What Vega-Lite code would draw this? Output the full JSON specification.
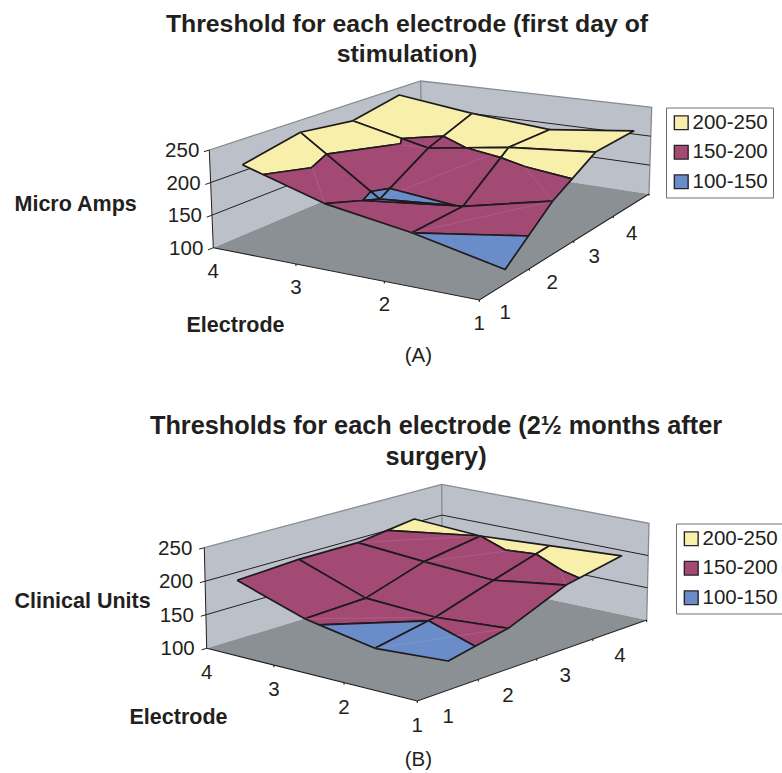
{
"$schema":"https://vega.github.io/schema/vega-lite/v6.json",
"padding":0,
"spacing":0,
"background":"white",
"config":{"view":{"stroke":null},"concat":{"spacing":0},
"title":{"font":"Liberation Sans","fontWeight":"bold","color":"#231f20","anchor":"middle","baseline":"bottom"},
"text":{"font":"Liberation Sans","color":"#231f20"},
"axis":{"domain":false,"ticks":false,"labels":false,"grid":false,"titleFont":"Liberation Sans","titleFontSize":21.5,"titleFontWeight":"bold","titleColor":"#231f20","titleAngle":0,"titleAlign":"left","titleBaseline":"middle"},
"legend":{"title":null,"orient":"none","symbolType":"square","symbolSize":190,"symbolStrokeWidth":1.4,"symbolStrokeColor":"#2a2328","labelFont":"Liberation Sans","labelFontSize":20.5,"labelColor":"#231f20","strokeColor":"#6f6f6f","fillColor":"white","padding":5,"rowPadding":8.5,"labelOffset":1}},
"resolve":{"scale":{"color":"independent","x":"independent","y":"independent"},"legend":{"color":"independent"}},
"vconcat":[
{"width":782,"height":387,
"title":{"text":["Threshold for each electrode (first day of","stimulation)"],"fontSize":24.8,"lineHeight":30,"offset":-67,"dx":16},
"data":{"values":[
{"k":"wall","p":1,"o":0,"e":4,"s":0.5,"v":100},{"k":"wall","p":1,"o":1,"e":4,"s":4.5,"v":100},{"k":"wall","p":1,"o":2,"e":4,"s":4.5,"v":250},{"k":"wall","p":1,"o":3,"e":4,"s":0.5,"v":250},
{"k":"wall","p":2,"o":0,"e":4,"s":4.5,"v":100},{"k":"wall","p":2,"o":1,"e":1,"s":4.5,"v":100},{"k":"wall","p":2,"o":2,"e":1,"s":4.5,"v":250},{"k":"wall","p":2,"o":3,"e":4,"s":4.5,"v":250},
{"k":"floor","p":1,"o":0,"e":1,"s":0.5,"v":100},{"k":"floor","p":1,"o":1,"e":4,"s":0.5,"v":100},{"k":"floor","p":1,"o":2,"e":4,"s":4.5,"v":100},{"k":"floor","p":1,"o":3,"e":1,"s":4.5,"v":100},
{"k":"grid","p":1,"o":0,"e":4,"s":0.42,"v":150},{"k":"grid","p":1,"o":1,"e":4,"s":4.5,"v":150},{"k":"grid","p":1,"o":2,"e":1,"s":4.5,"v":150},
{"k":"grid","p":2,"o":0,"e":4,"s":0.42,"v":200},{"k":"grid","p":2,"o":1,"e":4,"s":4.5,"v":200},{"k":"grid","p":2,"o":2,"e":1,"s":4.5,"v":200},
{"k":"grid","p":3,"o":0,"e":4,"s":0.42,"v":100},{"k":"grid","p":3,"o":1,"e":4,"s":0.5,"v":100},
{"k":"grid","p":4,"o":0,"e":4,"s":0.42,"v":250},{"k":"grid","p":4,"o":1,"e":4,"s":0.5,"v":250},
{"k":"grid","p":5,"o":0,"e":4,"s":0.5,"v":100},{"k":"grid","p":5,"o":1,"e":4,"s":0.5,"v":250},
{"k":"edge","p":1,"o":0,"e":4,"s":0.5,"v":250},{"k":"edge","p":1,"o":1,"e":4,"s":4.5,"v":250},{"k":"edge","p":1,"o":2,"e":1,"s":4.5,"v":250},{"k":"edge","p":1,"o":3,"e":1,"s":4.5,"v":100},
{"k":"edge","p":2,"o":0,"e":4,"s":4.5,"v":250},{"k":"edge","p":2,"o":1,"e":4,"s":4.5,"v":100},
{"k":"s","p":1,"o":0,"b":"200-250","e":4,"s":3,"v":219},{"k":"s","p":1,"o":1,"b":"200-250","e":4,"s":4,"v":237},{"k":"s","p":1,"o":2,"b":"200-250","e":3,"s":4,"v":220},{"k":"s","p":1,"o":3,"b":"200-250","e":3,"s":3.333,"v":200},{"k":"s","p":1,"o":4,"b":"200-250","e":3.345,"s":3,"v":200},{"k":"s","p":1,"o":5,"b":"200-250","e":4,"s":3,"v":219},
{"k":"s","p":2,"o":0,"b":"150-200","e":3.345,"s":3,"v":200},{"k":"s","p":2,"o":1,"b":"150-200","e":3,"s":3.333,"v":200},{"k":"s","p":2,"o":2,"b":"150-200","e":3,"s":3,"v":190},{"k":"s","p":2,"o":3,"b":"150-200","e":3.345,"s":3,"v":200},
{"k":"s","p":3,"o":0,"b":"200-250","e":3,"s":3.333,"v":200},{"k":"s","p":3,"o":1,"b":"200-250","e":3,"s":4,"v":220},{"k":"s","p":3,"o":2,"b":"200-250","e":2,"s":4,"v":209},{"k":"s","p":3,"o":3,"b":"200-250","e":2,"s":3,"v":211},{"k":"s","p":3,"o":4,"b":"200-250","e":2.524,"s":3,"v":200},{"k":"s","p":3,"o":5,"b":"200-250","e":3,"s":3.333,"v":200},
{"k":"s","p":4,"o":0,"b":"150-200","e":3,"s":3.333,"v":200},{"k":"s","p":4,"o":1,"b":"150-200","e":2.524,"s":3,"v":200},{"k":"s","p":4,"o":2,"b":"150-200","e":3,"s":3,"v":190},{"k":"s","p":4,"o":3,"b":"150-200","e":3,"s":3.333,"v":200},
{"k":"s","p":5,"o":0,"b":"200-250","e":2,"s":3,"v":211},{"k":"s","p":5,"o":1,"b":"200-250","e":2,"s":4,"v":209},{"k":"s","p":5,"o":2,"b":"200-250","e":1,"s":4,"v":225},{"k":"s","p":5,"o":3,"b":"200-250","e":1,"s":3,"v":223},{"k":"s","p":5,"o":4,"b":"200-250","e":2,"s":3,"v":211},
{"k":"s","p":6,"o":0,"b":"200-250","e":4,"s":2,"v":230},{"k":"s","p":6,"o":1,"b":"200-250","e":4,"s":3,"v":219},{"k":"s","p":6,"o":2,"b":"200-250","e":3.345,"s":3,"v":200},{"k":"s","p":6,"o":3,"b":"200-250","e":3.23,"s":2.79,"v":200},{"k":"s","p":6,"o":4,"b":"200-250","e":3.667,"s":2,"v":200},{"k":"s","p":6,"o":5,"b":"200-250","e":4,"s":2,"v":230},
{"k":"s","p":7,"o":0,"b":"150-200","e":3.667,"s":2,"v":200},{"k":"s","p":7,"o":1,"b":"150-200","e":3.23,"s":2.79,"v":200},{"k":"s","p":7,"o":2,"b":"150-200","e":3.345,"s":3,"v":200},{"k":"s","p":7,"o":3,"b":"150-200","e":3,"s":3,"v":190},{"k":"s","p":7,"o":4,"b":"150-200","e":3,"s":2.2,"v":150},{"k":"s","p":7,"o":5,"b":"150-200","e":3.111,"s":2,"v":150},{"k":"s","p":7,"o":6,"b":"150-200","e":3.667,"s":2,"v":200},
{"k":"s","p":8,"o":0,"b":"100-150","e":3.111,"s":2,"v":150},{"k":"s","p":8,"o":1,"b":"100-150","e":3,"s":2.2,"v":150},{"k":"s","p":8,"o":2,"b":"100-150","e":3,"s":2,"v":140},{"k":"s","p":8,"o":3,"b":"100-150","e":3.111,"s":2,"v":150},
{"k":"s","p":9,"o":0,"b":"200-250","e":2.524,"s":3,"v":200},{"k":"s","p":9,"o":1,"b":"200-250","e":2,"s":3,"v":211},{"k":"s","p":9,"o":2,"b":"200-250","e":2,"s":2.817,"v":200},{"k":"s","p":9,"o":3,"b":"200-250","e":2.524,"s":3,"v":200},
{"k":"s","p":10,"o":0,"b":"150-200","e":2.524,"s":3,"v":200},{"k":"s","p":10,"o":1,"b":"150-200","e":2,"s":2.817,"v":200},{"k":"s","p":10,"o":2,"b":"150-200","e":2,"s":2,"v":151},{"k":"s","p":10,"o":3,"b":"150-200","e":2.09,"s":2,"v":150},{"k":"s","p":10,"o":4,"b":"150-200","e":3,"s":2.2,"v":150},{"k":"s","p":10,"o":5,"b":"150-200","e":3,"s":3,"v":190},{"k":"s","p":10,"o":6,"b":"150-200","e":2.524,"s":3,"v":200},
{"k":"s","p":11,"o":0,"b":"100-150","e":3,"s":2.2,"v":150},{"k":"s","p":11,"o":1,"b":"100-150","e":2.09,"s":2,"v":150},{"k":"s","p":11,"o":2,"b":"100-150","e":3,"s":2,"v":140},{"k":"s","p":11,"o":3,"b":"100-150","e":3,"s":2.2,"v":150},
{"k":"s","p":12,"o":0,"b":"200-250","e":2,"s":2.817,"v":200},{"k":"s","p":12,"o":1,"b":"200-250","e":2,"s":3,"v":211},{"k":"s","p":12,"o":2,"b":"200-250","e":1,"s":3,"v":223},{"k":"s","p":12,"o":3,"b":"200-250","e":1,"s":2.44,"v":200},{"k":"s","p":12,"o":4,"b":"200-250","e":1.61,"s":2.62,"v":200},{"k":"s","p":12,"o":5,"b":"200-250","e":2,"s":2.817,"v":200},
{"k":"s","p":13,"o":0,"b":"150-200","e":2,"s":2.817,"v":200},{"k":"s","p":13,"o":1,"b":"150-200","e":1.61,"s":2.62,"v":200},{"k":"s","p":13,"o":2,"b":"150-200","e":1,"s":2.44,"v":200},{"k":"s","p":13,"o":3,"b":"150-200","e":1,"s":2,"v":182},{"k":"s","p":13,"o":4,"b":"150-200","e":2,"s":2,"v":151},{"k":"s","p":13,"o":5,"b":"150-200","e":2,"s":2.817,"v":200},
{"k":"s","p":14,"o":0,"b":"200-250","e":4,"s":1,"v":210},{"k":"s","p":14,"o":1,"b":"200-250","e":4,"s":2,"v":230},{"k":"s","p":14,"o":2,"b":"200-250","e":3.667,"s":2,"v":200},{"k":"s","p":14,"o":3,"b":"200-250","e":3.48,"s":1.46,"v":200},{"k":"s","p":14,"o":4,"b":"200-250","e":3.744,"s":1,"v":200},{"k":"s","p":14,"o":5,"b":"200-250","e":4,"s":1,"v":210},
{"k":"s","p":15,"o":0,"b":"150-200","e":3.744,"s":1,"v":200},{"k":"s","p":15,"o":1,"b":"150-200","e":3.48,"s":1.46,"v":200},{"k":"s","p":15,"o":2,"b":"150-200","e":3.667,"s":2,"v":200},{"k":"s","p":15,"o":3,"b":"150-200","e":3.111,"s":2,"v":150},{"k":"s","p":15,"o":4,"b":"150-200","e":3,"s":1.677,"v":150},{"k":"s","p":15,"o":5,"b":"150-200","e":3,"s":1,"v":171},{"k":"s","p":15,"o":6,"b":"150-200","e":3.744,"s":1,"v":200},
{"k":"s","p":16,"o":0,"b":"100-150","e":3,"s":1.677,"v":150},{"k":"s","p":16,"o":1,"b":"100-150","e":3.111,"s":2,"v":150},{"k":"s","p":16,"o":2,"b":"100-150","e":3,"s":2,"v":140},{"k":"s","p":16,"o":3,"b":"100-150","e":3,"s":1.677,"v":150},
{"k":"s","p":17,"o":0,"b":"150-200","e":3,"s":1,"v":171},{"k":"s","p":17,"o":1,"b":"150-200","e":3,"s":1.677,"v":150},{"k":"s","p":17,"o":2,"b":"150-200","e":2.09,"s":2,"v":150},{"k":"s","p":17,"o":3,"b":"150-200","e":2,"s":2,"v":151},{"k":"s","p":17,"o":4,"b":"150-200","e":2,"s":1,"v":150},{"k":"s","p":17,"o":5,"b":"150-200","e":3,"s":1,"v":171},
{"k":"s","p":18,"o":0,"b":"100-150","e":3,"s":1.677,"v":150},{"k":"s","p":18,"o":1,"b":"100-150","e":3,"s":2,"v":140},{"k":"s","p":18,"o":2,"b":"100-150","e":2.09,"s":2,"v":150},{"k":"s","p":18,"o":3,"b":"100-150","e":3,"s":1.677,"v":150},
{"k":"s","p":19,"o":0,"b":"150-200","e":2,"s":1,"v":150},{"k":"s","p":19,"o":1,"b":"150-200","e":2,"s":2,"v":151},{"k":"s","p":19,"o":2,"b":"150-200","e":1,"s":2,"v":182},{"k":"s","p":19,"o":3,"b":"150-200","e":1,"s":1.475,"v":150},{"k":"s","p":19,"o":4,"b":"150-200","e":2,"s":1,"v":150},
{"k":"s","p":20,"o":0,"b":"100-150","e":2,"s":1,"v":150},{"k":"s","p":20,"o":1,"b":"100-150","e":1,"s":1.475,"v":150},{"k":"s","p":20,"o":2,"b":"100-150","e":1,"s":1,"v":121},{"k":"s","p":20,"o":3,"b":"100-150","e":2,"s":1,"v":150},
{"k":"diag","p":1,"o":0,"e":3,"s":1,"v":171},{"k":"diag","p":1,"o":1,"e":4,"s":2,"v":230},
{"k":"diag","p":2,"o":0,"e":2,"s":1,"v":150},{"k":"diag","p":2,"o":1,"e":1,"s":2,"v":182},
{"k":"diag","p":3,"o":0,"e":4,"s":2,"v":230},{"k":"diag","p":3,"o":1,"e":3,"s":3,"v":190},
{"k":"diag","p":4,"o":0,"e":3,"s":2,"v":140},{"k":"diag","p":4,"o":1,"e":2,"s":3,"v":211},
{"k":"diag","p":5,"o":0,"e":2,"s":3,"v":211},{"k":"diag","p":5,"o":1,"e":1,"s":2,"v":182},
{"k":"diag","p":6,"o":0,"e":4,"s":3,"v":219},{"k":"diag","p":6,"o":1,"e":3,"s":4,"v":220},
{"k":"diag","p":7,"o":0,"e":3,"s":4,"v":220},{"k":"diag","p":7,"o":1,"e":2,"s":3,"v":211},
{"k":"axis","p":1,"o":0,"e":4,"s":0.5,"v":100},{"k":"axis","p":1,"o":1,"e":1,"s":0.5,"v":100},{"k":"axis","p":1,"o":2,"e":1,"s":4.5,"v":100},
{"k":"axis","p":2,"o":0,"e":1,"s":0.5,"v":97},{"k":"axis","p":2,"o":1,"e":1,"s":0.5,"v":100},
{"k":"axis","p":3,"o":0,"e":2,"s":0.5,"v":97},{"k":"axis","p":3,"o":1,"e":2,"s":0.5,"v":100},
{"k":"axis","p":4,"o":0,"e":3,"s":0.5,"v":97},{"k":"axis","p":4,"o":1,"e":3,"s":0.5,"v":100},
{"k":"axis","p":5,"o":0,"e":1,"s":1.5,"v":97},{"k":"axis","p":5,"o":1,"e":1,"s":1.5,"v":100},
{"k":"axis","p":6,"o":0,"e":1,"s":2.5,"v":97},{"k":"axis","p":6,"o":1,"e":1,"s":2.5,"v":100},
{"k":"axis","p":7,"o":0,"e":1,"s":3.5,"v":97},{"k":"axis","p":7,"o":1,"e":1,"s":3.5,"v":100},
{"k":"axis","p":8,"o":0,"e":1,"s":4.5,"v":97},{"k":"axis","p":8,"o":1,"e":1,"s":4.5,"v":100},
{"k":"val","e":4,"s":0.5,"v":100,"t":"100"},{"k":"val","e":4,"s":0.5,"v":150,"t":"150"},{"k":"val","e":4,"s":0.5,"v":200,"t":"200"},{"k":"val","e":4,"s":0.5,"v":250,"t":"250"},
{"k":"eleft","e":1,"s":0.5,"v":100,"t":"1"},{"k":"eleft","e":2,"s":0.5,"v":100,"t":"2"},{"k":"eleft","e":3,"s":0.5,"v":100,"t":"3"},{"k":"eleft","e":4,"s":0.5,"v":100,"t":"4"},
{"k":"eright","e":1,"s":1,"v":100,"t":"1"},{"k":"eright","e":1,"s":2,"v":100,"t":"2"},{"k":"eright","e":1,"s":3,"v":100,"t":"3"},{"k":"eright","e":1,"s":4,"v":100,"t":"4"},
{"k":"cap","e":1,"s":0.5,"v":100,"t":"(A)"}
]},
"transform":[
{"calculate":"(datum.e-1)/3","as":"U"},{"calculate":"(datum.s-0.5)/4","as":"T"},
{"calculate":"datum.U*1.11/(1+0.11*datum.U)","as":"pu"},{"calculate":"datum.T*1.255/(1+0.255*datum.T)","as":"pt"},
{"calculate":"(datum.v-100)/150","as":"h"},
{"calculate":"(1-datum.pu)*(1-datum.pt)*(479.3-0.3*datum.h)+datum.pu*(1-datum.pt)*(213.3-4*datum.h)+(1-datum.pu)*datum.pt*(649+2.7*datum.h)+datum.pu*datum.pt*(421.7-1*datum.h)","as":"px"},
{"calculate":"(1-datum.pu)*(1-datum.pt)*(300-106*datum.h)+datum.pu*(1-datum.pt)*(247.7-97.7*datum.h)+(1-datum.pu)*datum.pt*(194-86.7*datum.h)+datum.pu*datum.pt*(159.3-78.3*datum.h)","as":"py"}
],
"encoding":{
"x":{"field":"px","type":"quantitative","scale":{"domain":[0,782],"nice":false,"zero":false},"axis":{"title":"Electrode","titleX":186,"titleY":-62,"orient":"bottom"}},
"y":{"field":"py","type":"quantitative","scale":{"domain":[0,387],"reverse":true,"nice":false,"zero":false},"axis":{"title":"Micro Amps","titleX":14,"titleY":204}}
},
"layer":[
{"transform":[{"filter":"datum.k=='wall'"}],"mark":{"type":"line","filled":true,"color":"#bcc1c9","stroke":null},"encoding":{"detail":{"field":"p"},"order":{"field":"o"}}},
{"transform":[{"filter":"datum.k=='floor'"}],"mark":{"type":"line","filled":true,"color":"#8a9094","stroke":null},"encoding":{"detail":{"field":"p"},"order":{"field":"o"}}},
{"transform":[{"filter":"datum.k=='edge'"}],"mark":{"type":"line","stroke":"#868c93","strokeWidth":1.3},"encoding":{"detail":{"field":"p"},"order":{"field":"o"}}},
{"transform":[{"filter":"datum.k=='grid'"}],"mark":{"type":"line","stroke":"#231f20","strokeWidth":1},"encoding":{"detail":{"field":"p"},"order":{"field":"o"}}},
{"transform":[{"filter":"datum.k=='axis'"}],"mark":{"type":"line","stroke":"#231f20","strokeWidth":1.1},"encoding":{"detail":{"field":"p"},"order":{"field":"o"}}},
{"transform":[{"filter":"datum.k=='s'"}],"mark":{"type":"line","filled":true,"stroke":"#1f1a1e","strokeWidth":1.7,"strokeJoin":"round"},"encoding":{"detail":{"field":"p"},"order":{"field":"o"},
"color":{"field":"b","type":"nominal","scale":{"domain":["200-250","150-200","100-150"],"range":["#f8efaa","#a34a74","#6a8cc9"]},"legend":{"legendX":666,"legendY":107.5}}}},
{"transform":[{"filter":"datum.k=='diag'"}],"mark":{"type":"line","stroke":"white","strokeWidth":0.7,"strokeOpacity":0.14},"encoding":{"detail":{"field":"p"},"order":{"field":"o"}}},
{"transform":[{"filter":"datum.k=='val'"}],"mark":{"type":"text","align":"right","baseline":"middle","fontSize":20.5,"dx":-10,"dy":1},"encoding":{"text":{"field":"t"}}},
{"transform":[{"filter":"datum.k=='eleft'"}],"mark":{"type":"text","align":"center","baseline":"middle","fontSize":20.5,"dy":24},"encoding":{"text":{"field":"t"}}},
{"transform":[{"filter":"datum.k=='eright'"}],"mark":{"type":"text","align":"center","baseline":"middle","fontSize":20.5,"dy":29},"encoding":{"text":{"field":"t"}}},
{"transform":[{"filter":"datum.k=='cap'"}],"mark":{"type":"text","align":"center","baseline":"middle","fontSize":20.5,"dx":-61,"dy":56},"encoding":{"text":{"field":"t"}}}
]},
{"width":782,"height":386,
"title":{"text":["Thresholds for each electrode (2½ months after","surgery)"],"fontSize":25.3,"lineHeight":31,"offset":-83,"dx":45},
"data":{"values":[
{"k":"wall","p":1,"o":0,"e":4,"s":0.5,"v":100},{"k":"wall","p":1,"o":1,"e":4,"s":4.5,"v":100},{"k":"wall","p":1,"o":2,"e":4,"s":4.5,"v":250},{"k":"wall","p":1,"o":3,"e":4,"s":0.5,"v":250},
{"k":"wall","p":2,"o":0,"e":4,"s":4.5,"v":100},{"k":"wall","p":2,"o":1,"e":1,"s":4.5,"v":100},{"k":"wall","p":2,"o":2,"e":1,"s":4.5,"v":250},{"k":"wall","p":2,"o":3,"e":4,"s":4.5,"v":250},
{"k":"floor","p":1,"o":0,"e":1,"s":0.5,"v":100},{"k":"floor","p":1,"o":1,"e":4,"s":0.5,"v":100},{"k":"floor","p":1,"o":2,"e":4,"s":4.5,"v":100},{"k":"floor","p":1,"o":3,"e":1,"s":4.5,"v":100},
{"k":"grid","p":1,"o":0,"e":4,"s":0.42,"v":150},{"k":"grid","p":1,"o":1,"e":4,"s":4.5,"v":150},{"k":"grid","p":1,"o":2,"e":1,"s":4.5,"v":150},
{"k":"grid","p":2,"o":0,"e":4,"s":0.42,"v":200},{"k":"grid","p":2,"o":1,"e":4,"s":4.5,"v":200},{"k":"grid","p":2,"o":2,"e":1,"s":4.5,"v":200},
{"k":"grid","p":3,"o":0,"e":4,"s":0.42,"v":100},{"k":"grid","p":3,"o":1,"e":4,"s":0.5,"v":100},
{"k":"grid","p":4,"o":0,"e":4,"s":0.42,"v":250},{"k":"grid","p":4,"o":1,"e":4,"s":0.5,"v":250},
{"k":"grid","p":5,"o":0,"e":4,"s":0.5,"v":100},{"k":"grid","p":5,"o":1,"e":4,"s":0.5,"v":250},
{"k":"edge","p":1,"o":0,"e":4,"s":0.5,"v":250},{"k":"edge","p":1,"o":1,"e":4,"s":4.5,"v":250},{"k":"edge","p":1,"o":2,"e":1,"s":4.5,"v":250},{"k":"edge","p":1,"o":3,"e":1,"s":4.5,"v":100},
{"k":"edge","p":2,"o":0,"e":4,"s":4.5,"v":250},{"k":"edge","p":2,"o":1,"e":4,"s":4.5,"v":100},
{"k":"s","p":1,"o":0,"b":"200-250","e":4,"s":3.516,"v":200},{"k":"s","p":1,"o":1,"b":"200-250","e":4,"s":4,"v":206},{"k":"s","p":1,"o":2,"b":"200-250","e":3,"s":4,"v":200},{"k":"s","p":1,"o":3,"b":"200-250","e":4,"s":3.516,"v":200},
{"k":"s","p":2,"o":0,"b":"150-200","e":4,"s":3,"v":193.6},{"k":"s","p":2,"o":1,"b":"150-200","e":4,"s":3.516,"v":200},{"k":"s","p":2,"o":2,"b":"150-200","e":3,"s":4,"v":200},{"k":"s","p":2,"o":3,"b":"150-200","e":3,"s":3,"v":186},{"k":"s","p":2,"o":4,"b":"150-200","e":4,"s":3,"v":193.6},
{"k":"s","p":3,"o":0,"b":"200-250","e":3,"s":4,"v":200},{"k":"s","p":3,"o":1,"b":"200-250","e":2,"s":4,"v":206.5},{"k":"s","p":3,"o":2,"b":"200-250","e":2,"s":3.755,"v":200},{"k":"s","p":3,"o":3,"b":"200-250","e":2.373,"s":3.676,"v":200},{"k":"s","p":3,"o":4,"b":"200-250","e":3,"s":4,"v":200},
{"k":"s","p":4,"o":0,"b":"150-200","e":3,"s":3,"v":186},{"k":"s","p":4,"o":1,"b":"150-200","e":3,"s":4,"v":200},{"k":"s","p":4,"o":2,"b":"150-200","e":2.373,"s":3.676,"v":200},{"k":"s","p":4,"o":3,"b":"150-200","e":2,"s":3.755,"v":200},{"k":"s","p":4,"o":4,"b":"150-200","e":2,"s":3,"v":180},{"k":"s","p":4,"o":5,"b":"150-200","e":3,"s":3,"v":186},
{"k":"s","p":5,"o":0,"b":"200-250","e":2,"s":3.755,"v":200},{"k":"s","p":5,"o":1,"b":"200-250","e":2,"s":4,"v":206.5},{"k":"s","p":5,"o":2,"b":"200-250","e":1,"s":4,"v":213},{"k":"s","p":5,"o":3,"b":"200-250","e":1,"s":3.235,"v":200},{"k":"s","p":5,"o":4,"b":"200-250","e":1.326,"s":3.363,"v":200},{"k":"s","p":5,"o":5,"b":"200-250","e":2,"s":3.755,"v":200},
{"k":"s","p":6,"o":0,"b":"150-200","e":2,"s":3,"v":180},{"k":"s","p":6,"o":1,"b":"150-200","e":2,"s":3.755,"v":200},{"k":"s","p":6,"o":2,"b":"150-200","e":1.326,"s":3.363,"v":200},{"k":"s","p":6,"o":3,"b":"150-200","e":1,"s":3.235,"v":200},{"k":"s","p":6,"o":4,"b":"150-200","e":1,"s":3,"v":196},{"k":"s","p":6,"o":5,"b":"150-200","e":2,"s":3,"v":180},
{"k":"s","p":7,"o":0,"b":"150-200","e":4,"s":2,"v":193.5},{"k":"s","p":7,"o":1,"b":"150-200","e":4,"s":3,"v":193.6},{"k":"s","p":7,"o":2,"b":"150-200","e":3,"s":3,"v":186},{"k":"s","p":7,"o":3,"b":"150-200","e":3,"s":2,"v":157},{"k":"s","p":7,"o":4,"b":"150-200","e":4,"s":2,"v":193.5},
{"k":"s","p":8,"o":0,"b":"150-200","e":3,"s":2,"v":157},{"k":"s","p":8,"o":1,"b":"150-200","e":3,"s":3,"v":186},{"k":"s","p":8,"o":2,"b":"150-200","e":2,"s":3,"v":180},{"k":"s","p":8,"o":3,"b":"150-200","e":2,"s":2,"v":152},{"k":"s","p":8,"o":4,"b":"150-200","e":3,"s":2,"v":157},
{"k":"s","p":9,"o":0,"b":"150-200","e":2,"s":2,"v":152},{"k":"s","p":9,"o":1,"b":"150-200","e":2,"s":3,"v":180},{"k":"s","p":9,"o":2,"b":"150-200","e":1,"s":3,"v":196},{"k":"s","p":9,"o":3,"b":"150-200","e":1,"s":2,"v":160},{"k":"s","p":9,"o":4,"b":"150-200","e":2,"s":2,"v":152},
{"k":"s","p":10,"o":0,"b":"150-200","e":4,"s":1,"v":188},{"k":"s","p":10,"o":1,"b":"150-200","e":4,"s":2,"v":193.5},{"k":"s","p":10,"o":2,"b":"150-200","e":3,"s":2,"v":157},{"k":"s","p":10,"o":3,"b":"150-200","e":3,"s":1,"v":154},{"k":"s","p":10,"o":4,"b":"150-200","e":4,"s":1,"v":188},
{"k":"s","p":11,"o":0,"b":"150-200","e":3,"s":1,"v":154},{"k":"s","p":11,"o":1,"b":"150-200","e":3,"s":2,"v":157},{"k":"s","p":11,"o":2,"b":"150-200","e":2,"s":2,"v":152},{"k":"s","p":11,"o":3,"b":"150-200","e":2,"s":1.882,"v":150},{"k":"s","p":11,"o":4,"b":"150-200","e":2.79,"s":1,"v":150},{"k":"s","p":11,"o":5,"b":"150-200","e":3,"s":1,"v":154},
{"k":"s","p":12,"o":0,"b":"100-150","e":2.79,"s":1,"v":150},{"k":"s","p":12,"o":1,"b":"100-150","e":2,"s":1.882,"v":150},{"k":"s","p":12,"o":2,"b":"100-150","e":2,"s":1,"v":135},{"k":"s","p":12,"o":3,"b":"100-150","e":2.79,"s":1,"v":150},
{"k":"s","p":13,"o":0,"b":"150-200","e":2,"s":1.882,"v":150},{"k":"s","p":13,"o":1,"b":"150-200","e":2,"s":2,"v":152},{"k":"s","p":13,"o":2,"b":"150-200","e":1,"s":2,"v":160},{"k":"s","p":13,"o":3,"b":"150-200","e":1,"s":1.444,"v":150},{"k":"s","p":13,"o":4,"b":"150-200","e":2,"s":1.882,"v":150},
{"k":"s","p":14,"o":0,"b":"100-150","e":2,"s":1,"v":135},{"k":"s","p":14,"o":1,"b":"100-150","e":2,"s":1.882,"v":150},{"k":"s","p":14,"o":2,"b":"100-150","e":1,"s":1.444,"v":150},{"k":"s","p":14,"o":3,"b":"100-150","e":1,"s":1,"v":142},{"k":"s","p":14,"o":4,"b":"100-150","e":2,"s":1,"v":135},
{"k":"diag","p":1,"o":0,"e":4,"s":3,"v":193.6},{"k":"diag","p":1,"o":1,"e":3,"s":4,"v":200},
{"k":"diag","p":2,"o":0,"e":3,"s":3,"v":186},{"k":"diag","p":2,"o":1,"e":2,"s":4,"v":206.5},
{"k":"diag","p":3,"o":0,"e":2,"s":4,"v":206.5},{"k":"diag","p":3,"o":1,"e":1,"s":3,"v":196},
{"k":"diag","p":4,"o":0,"e":3,"s":1,"v":154},{"k":"diag","p":4,"o":1,"e":2,"s":2,"v":152},
{"k":"diag","p":5,"o":0,"e":2,"s":1,"v":135},{"k":"diag","p":5,"o":1,"e":1,"s":2,"v":160},
{"k":"axis","p":1,"o":0,"e":4,"s":0.5,"v":100},{"k":"axis","p":1,"o":1,"e":1,"s":0.5,"v":100},{"k":"axis","p":1,"o":2,"e":1,"s":4.5,"v":100},
{"k":"axis","p":2,"o":0,"e":1,"s":0.5,"v":97},{"k":"axis","p":2,"o":1,"e":1,"s":0.5,"v":100},
{"k":"axis","p":3,"o":0,"e":2,"s":0.5,"v":97},{"k":"axis","p":3,"o":1,"e":2,"s":0.5,"v":100},
{"k":"axis","p":4,"o":0,"e":3,"s":0.5,"v":97},{"k":"axis","p":4,"o":1,"e":3,"s":0.5,"v":100},
{"k":"axis","p":5,"o":0,"e":1,"s":1.5,"v":97},{"k":"axis","p":5,"o":1,"e":1,"s":1.5,"v":100},
{"k":"axis","p":6,"o":0,"e":1,"s":2.5,"v":97},{"k":"axis","p":6,"o":1,"e":1,"s":2.5,"v":100},
{"k":"axis","p":7,"o":0,"e":1,"s":3.5,"v":97},{"k":"axis","p":7,"o":1,"e":1,"s":3.5,"v":100},
{"k":"axis","p":8,"o":0,"e":1,"s":4.5,"v":97},{"k":"axis","p":8,"o":1,"e":1,"s":4.5,"v":100},
{"k":"val","e":4,"s":0.5,"v":100,"t":"100"},{"k":"val","e":4,"s":0.5,"v":150,"t":"150"},{"k":"val","e":4,"s":0.5,"v":200,"t":"200"},{"k":"val","e":4,"s":0.5,"v":250,"t":"250"},
{"k":"eleft","e":1,"s":0.5,"v":100,"t":"1"},{"k":"eleft","e":2,"s":0.5,"v":100,"t":"2"},{"k":"eleft","e":3,"s":0.5,"v":100,"t":"3"},{"k":"eleft","e":4,"s":0.5,"v":100,"t":"4"},
{"k":"eright","e":1,"s":1,"v":100,"t":"1"},{"k":"eright","e":1,"s":2,"v":100,"t":"2"},{"k":"eright","e":1,"s":3,"v":100,"t":"3"},{"k":"eright","e":1,"s":4,"v":100,"t":"4"},
{"k":"cap","e":1,"s":0.5,"v":100,"t":"(B)"}
]},
"transform":[
{"calculate":"(datum.e-1)/3","as":"U"},{"calculate":"(datum.s-0.5)/4","as":"T"},
{"calculate":"datum.U*1.0675/(1+0.0675*datum.U)","as":"pu"},{"calculate":"datum.T*1.087/(1+0.087*datum.T)","as":"pt"},
{"calculate":"(datum.v-100)/150","as":"h"},
{"calculate":"(1-datum.pu)*(1-datum.pt)*417.3+datum.pu*(1-datum.pt)*(206.7-2.4*datum.h)+(1-datum.pu)*datum.pt*(646.7+2.3*datum.h)+datum.pu*datum.pt*(442.3-0.6*datum.h)","as":"px"},
{"calculate":"(1-datum.pu)*(1-datum.pt)*(314-105*datum.h)+datum.pu*(1-datum.pt)*(261.3-100.6*datum.h)+(1-datum.pu)*datum.pt*(233-96.7*datum.h)+datum.pu*datum.pt*(189.7-92.4*datum.h)","as":"py"}
],
"encoding":{
"x":{"field":"px","type":"quantitative","scale":{"domain":[0,782],"nice":false,"zero":false},"axis":{"title":"Electrode","titleX":129,"titleY":-56,"orient":"bottom"}},
"y":{"field":"py","type":"quantitative","scale":{"domain":[0,386],"reverse":true,"nice":false,"zero":false},"axis":{"title":"Clinical Units","titleX":14,"titleY":214}}
},
"layer":[
{"transform":[{"filter":"datum.k=='wall'"}],"mark":{"type":"line","filled":true,"color":"#bcc1c9","stroke":null},"encoding":{"detail":{"field":"p"},"order":{"field":"o"}}},
{"transform":[{"filter":"datum.k=='floor'"}],"mark":{"type":"line","filled":true,"color":"#8a9094","stroke":null},"encoding":{"detail":{"field":"p"},"order":{"field":"o"}}},
{"transform":[{"filter":"datum.k=='edge'"}],"mark":{"type":"line","stroke":"#868c93","strokeWidth":1.3},"encoding":{"detail":{"field":"p"},"order":{"field":"o"}}},
{"transform":[{"filter":"datum.k=='grid'"}],"mark":{"type":"line","stroke":"#231f20","strokeWidth":1},"encoding":{"detail":{"field":"p"},"order":{"field":"o"}}},
{"transform":[{"filter":"datum.k=='axis'"}],"mark":{"type":"line","stroke":"#231f20","strokeWidth":1.1},"encoding":{"detail":{"field":"p"},"order":{"field":"o"}}},
{"transform":[{"filter":"datum.k=='s'"}],"mark":{"type":"line","filled":true,"stroke":"#1f1a1e","strokeWidth":1.7,"strokeJoin":"round"},"encoding":{"detail":{"field":"p"},"order":{"field":"o"},
"color":{"field":"b","type":"nominal","scale":{"domain":["200-250","150-200","100-150"],"range":["#f8efaa","#a34a74","#6a8cc9"]},"legend":{"legendX":676,"legendY":136.5}}}},
{"transform":[{"filter":"datum.k=='diag'"}],"mark":{"type":"line","stroke":"white","strokeWidth":0.7,"strokeOpacity":0.14},"encoding":{"detail":{"field":"p"},"order":{"field":"o"}}},
{"transform":[{"filter":"datum.k=='val'"}],"mark":{"type":"text","align":"right","baseline":"middle","fontSize":20.5,"dx":-12,"dy":1},"encoding":{"text":{"field":"t"}}},
{"transform":[{"filter":"datum.k=='eleft'"}],"mark":{"type":"text","align":"center","baseline":"middle","fontSize":20.5,"dy":25},"encoding":{"text":{"field":"t"}}},
{"transform":[{"filter":"datum.k=='eright'"}],"mark":{"type":"text","align":"center","baseline":"middle","fontSize":20.5,"dy":27},"encoding":{"text":{"field":"t"}}},
{"transform":[{"filter":"datum.k=='cap'"}],"mark":{"type":"text","align":"center","baseline":"middle","fontSize":20.5,"dx":1,"dy":59},"encoding":{"text":{"field":"t"}}}
]}
]
}
